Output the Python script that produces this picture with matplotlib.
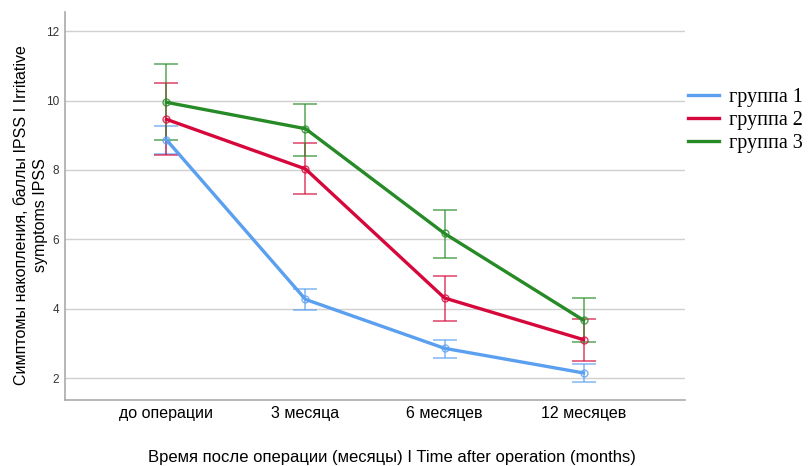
import matplotlib
matplotlib.use('Agg')
import matplotlib.pyplot as plt
import numpy as np

plt.rcParams['font.family'] = ['Liberation Sans', 'DejaVu Sans']

times = ['до операции', '3 месяца', '6 месяцев', '12 месяцев']
groups = ['группа 1', 'группа 2', 'группа 3']
colors = ['#5a9ff0', '#d6083b', '#268a26']

# means and 95% CI bounds per group
means = [
    [8.87, 4.27, 2.86, 2.15],
    [9.46, 8.03, 4.31, 3.11],
    [9.95, 9.19, 6.17, 3.67],
]
upper = [
    [9.27, 4.57, 3.11, 2.40],
    [10.51, 8.77, 4.95, 3.71],
    [11.06, 9.91, 6.85, 4.31],
]
lower = [
    [8.47, 3.97, 2.58, 1.90],
    [8.42, 7.32, 3.66, 2.49],
    [8.87, 8.41, 5.47, 3.04],
]

fig = plt.figure(figsize=(8.1, 4.66), dpi=100)
ax = fig.add_axes([0.0802, 0.1416, 0.7655, 0.8324])

x = np.arange(len(times))
for i in range(len(groups)):
    m = np.array(means[i])
    lo = m - np.array(lower[i])
    hi = np.array(upper[i]) - m
    ax.errorbar(x, m, yerr=[lo, hi], fmt='none', ecolor=colors[i], alpha=0.65,
                elinewidth=1.3, capsize=8.5, capthick=1.3, zorder=3)
    ax.plot(x, m, color=colors[i], lw=2.4, label=groups[i], zorder=4)
    ax.plot(x, m, 'o', mfc='none', mec=colors[i], ms=5, mew=1.0, alpha=0.8, zorder=5)

ax.set_xlim(-0.73, 3.73)
ax.set_ylim(1.37, 12.55)
ax.set_yticks([2, 4, 6, 8, 10, 12])
ax.set_xticks(x)
ax.set_xticklabels(times, fontsize=11.5)
ax.tick_params(axis='y', labelsize=8.5, length=0, colors='#333333', pad=4)
ax.tick_params(axis='x', length=0, pad=4)
ax.yaxis.grid(True, color='#d0d0d0', lw=1)
ax.set_axisbelow(True)
for s in ['top', 'right']:
    ax.spines[s].set_visible(False)
for s in ['left', 'bottom']:
    ax.spines[s].set_color('#aaaaaa')
    ax.spines[s].set_linewidth(1.2)

ax.set_ylabel('Симптомы накопления, баллы IPSS I Irritative\nsymptoms IPSS', fontsize=11.5,
              linespacing=1.3, va='center')
ax.yaxis.set_label_coords(-0.055, 0.477)
ax.set_xlabel('Время после операции (месяцы) I Time after operation (months)', fontsize=12, va='center')
ax.xaxis.set_label_coords(0.527, -0.147)

ax.legend(loc='upper left', bbox_to_anchor=(1.005, 0.805), frameon=False,
          prop={'family': 'Liberation Serif', 'size': 14.5}, handlelength=1.55,
          labelspacing=0.2, handletextpad=0.5, borderpad=0, borderaxespad=0)

fig.savefig('out.png', dpi=100)
